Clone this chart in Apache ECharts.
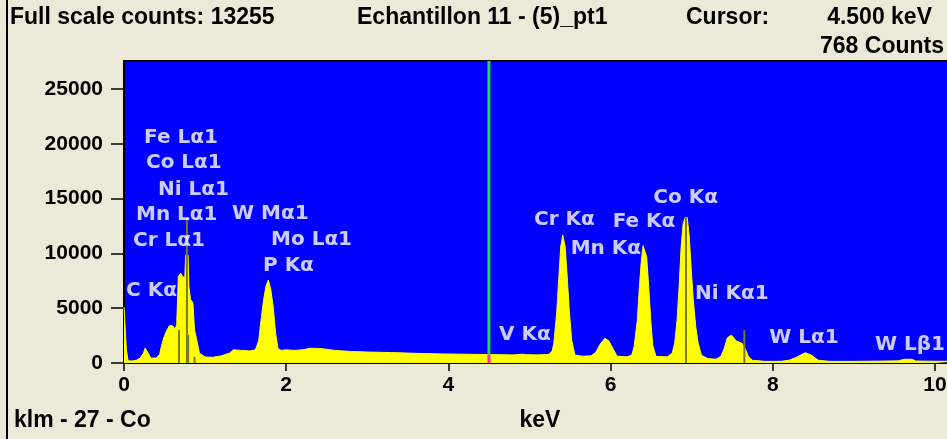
<!DOCTYPE html>
<html><head><meta charset="utf-8">
<script src="https://cdn.jsdelivr.net/npm/echarts@6/dist/echarts.min.js"></script>
<style>html,body{margin:0;padding:0;background:#ECE9D8;overflow:hidden;width:947px;height:439px}#c{width:965px;height:439px;}</style>
</head><body><div id="c"></div>
<script>
// spectrum (keV, counts)
const energy = [0.00,0.02,0.03,0.05,0.10,0.15,0.20,0.24,0.26,0.28,0.30,0.33,0.40,0.44,0.47,0.50,0.53,0.56,0.60,0.63,0.65,0.67,0.70,0.72,0.75,0.76,0.79,0.80,0.82,0.85,0.87,0.90,0.93,1.00,1.10,1.20,1.30,1.35,1.45,1.55,1.62,1.66,1.69,1.72,1.75,1.78,1.81,1.84,1.87,1.90,1.94,2.00,2.10,2.20,2.30,2.45,2.60,2.80,3.00,3.30,3.60,3.90,4.20,4.50,4.80,4.92,4.96,5.10,5.24,5.28,5.30,5.335,5.36,5.385,5.41,5.44,5.465,5.49,5.52,5.56,5.65,5.76,5.82,5.87,5.93,5.98,6.03,6.08,6.20,6.26,6.29,6.33,6.355,6.38,6.40,6.42,6.445,6.47,6.495,6.52,6.56,6.70,6.76,6.79,6.82,6.845,6.87,6.895,6.92,6.945,6.97,6.995,7.02,7.05,7.08,7.12,7.20,7.30,7.36,7.40,7.44,7.49,7.55,7.62,7.66,7.70,7.75,7.90,8.10,8.20,8.30,8.40,8.48,8.56,8.70,9.00,9.30,9.55,9.62,9.72,9.76,10.00,10.37];
const counts = [5100,5100,1200,200,180,250,450,900,1350,1350,900,450,450,800,1800,2500,3000,3400,3400,3100,3500,7900,8200,7900,7800,9800,9850,7000,5800,5500,3000,2000,900,550,520,650,900,1200,1150,1100,1200,2000,3900,5700,7000,7570,6700,5100,2700,1300,1150,1200,1150,1200,1350,1300,1150,1050,1000,950,880,830,800,768,740,800,760,740,780,1100,1800,4530,7570,10600,11670,10600,7870,4830,2100,730,620,650,1000,1700,2250,2000,1300,620,560,700,1490,3920,6960,9390,10700,10700,9700,6960,3920,1600,600,560,900,1800,3920,6960,10600,12740,13255,13255,11520,8480,5750,3310,1800,700,400,350,600,1300,2300,2550,2000,1800,1300,600,250,150,150,250,550,940,700,250,150,150,170,200,340,340,180,160,160];

// KLM line markers for Co
const markerEnergy = [0.678, 0.776, 0.791, 0.870, 6.930, 7.649];
const markerHeight = [3000, 13255, 2550, 550, 13255, 3000];

// peak labels
const labelText = ['C K\u03b1','Cr L\u03b11','Mn L\u03b11','Ni L\u03b11','Co L\u03b11','Fe L\u03b11','W M\u03b11','Mo L\u03b11','P K\u03b1','V K\u03b1','Cr K\u03b1','Mn K\u03b1','Fe K\u03b1','Co K\u03b1','Ni K\u03b11','W L\u03b11','W L\u03b21'];
const labelEnergy = [0.025,0.111,0.148,0.419,0.271,0.247,1.332,1.813,1.714,4.624,5.055,5.508,6.026,6.527,7.04,7.957,9.26];
const labelCounts = [6570,11130,13500,15820,18240,20570,13590,11220,8890,2550,13040,10420,12860,15090,6290,2280,1640];

const xTicks = [0,2,4,6,8,10];
const yTicks = [0,5000,10000,15000,20000,25000];
const xMax = 10.37, yMax = 27550;
const cursorEnergy = 4.5, cursorCounts = 768;
const fullScale = 13255;

const chart = echarts.init(document.getElementById('c'));
const blackFont = '"Liberation Sans", Arial, sans-serif';
const hdr = 'bold 23px ' + blackFont;
chart.setOption({
  backgroundColor: '#ECE9D8',
  animation: false,
  grid: { left: 124, right: 0, top: 61, bottom: 76, show: true, backgroundColor: '#0000FF', borderWidth: 0, containLabel: false },
  xAxis: [{
    type: 'value', min: 0, max: xMax,
    axisLine: { show: true, lineStyle: { color: '#000', width: 2 } },
    axisTick: { show: true, length: 8, customValues: xTicks, lineStyle: { color: '#000', width: 1.5 } },
    axisLabel: { customValues: xTicks, margin: 12, color: '#000', fontWeight: 'bold', fontSize: 21, fontFamily: blackFont, formatter: v => String(v) },
    splitLine: { show: false }
  }, {
    type: 'value', position: 'top', min: 0, max: xMax,
    axisLine: { show: true, lineStyle: { color: '#000', width: 2 } },
    axisTick: { show: false }, axisLabel: { show: false }, splitLine: { show: false }
  }],
  yAxis: {
    type: 'value', min: 0, max: yMax,
    axisLine: { show: true, lineStyle: { color: '#000', width: 2 } },
    axisTick: { show: true, length: 13, customValues: yTicks, lineStyle: { color: '#000', width: 1.5 } },
    axisLabel: { customValues: yTicks, margin: 21, color: '#000', fontWeight: 'bold', fontSize: 21, fontFamily: blackFont, formatter: v => String(v) },
    splitLine: { show: false }
  },
  series: [
    { type: 'line', data: energy.map((e, i) => [e, counts[i]]), showSymbol: false, symbol: 'none',
      lineStyle: { color: '#FFFF00', width: 1 }, areaStyle: { color: '#FFFF00', opacity: 1 }, z: 2 },
    { type: 'bar', data: markerEnergy.map((e, i) => [e, markerHeight[i]]), barWidth: 2,
      itemStyle: { color: '#7a7a20' }, z: 3 },
    { type: 'line', data: [[cursorEnergy, 0], [cursorEnergy, cursorCounts]], showSymbol: false, symbol: 'none',
      lineStyle: { color: '#FF3399', width: 3 }, z: 4 },
    { type: 'line', data: [[cursorEnergy, cursorCounts], [cursorEnergy, yMax]], showSymbol: false, symbol: 'none',
      lineStyle: { color: '#2FD060', width: 3 }, z: 4 },
    { type: 'scatter', data: labelEnergy.map((e, i) => [e, labelCounts[i]]), symbolSize: 0, z: 5,
      label: { show: true, position: [0, 0], align: 'left', verticalAlign: 'middle',
        formatter: p => labelText[p.dataIndex], color: '#fff', fontWeight: 'bold', fontSize: 20, fontFamily: '"DejaVu Sans", Verdana, sans-serif' } }
  ],
  graphic: [
    { type: 'line', shape: { x1: 7, y1: 0, x2: 7, y2: 439 }, style: { stroke: '#000', lineWidth: 2 } },
    { type: 'text', x: 10, y: 18, style: { text: 'Full scale counts: ' + fullScale, font: hdr, fill: '#000', verticalAlign: 'middle' } },
    { type: 'text', x: 357, y: 18, style: { text: 'Echantillon 11 - (5)_pt1', font: hdr, fill: '#000', verticalAlign: 'middle' } },
    { type: 'text', x: 686, y: 18, style: { text: 'Cursor:', font: hdr, fill: '#000', verticalAlign: 'middle' } },
    { type: 'text', x: 932, y: 18, style: { text: cursorEnergy.toFixed(3) + ' keV', font: hdr, fill: '#000', align: 'right', verticalAlign: 'middle' } },
    { type: 'text', x: 944, y: 47, style: { text: cursorCounts + ' Counts', font: hdr, fill: '#000', align: 'right', verticalAlign: 'middle' } },
    { type: 'text', x: 14, y: 421, style: { text: 'klm - 27 - Co', font: hdr, fill: '#000', verticalAlign: 'middle' } },
    { type: 'text', x: 540, y: 421, style: { text: 'keV', font: hdr, fill: '#000', align: 'center', verticalAlign: 'middle' } }
  ]
});
</script></body></html>
